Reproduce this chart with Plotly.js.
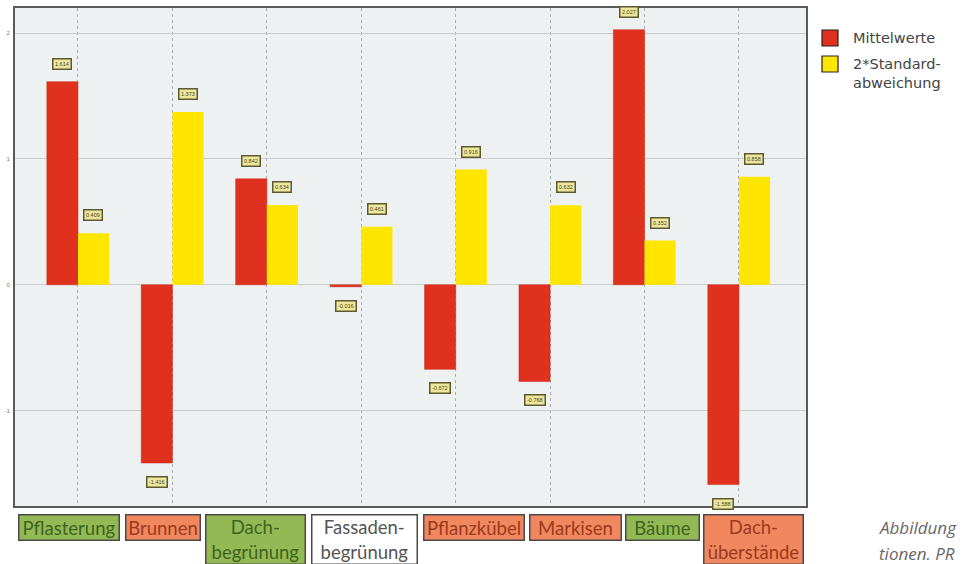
<!DOCTYPE html>
<html>
<head>
<meta charset="utf-8">
<script src="https://cdn.plot.ly/plotly-3.0.1.min.js"></script>
<style>html,body{margin:0;padding:0;background:#fff;}#chart{width:965px;height:564px;}</style>
</head>
<body>
<div id="chart"></div>
<script>
// ---- data ----
const categories = ['Pflasterung','Brunnen','Dachbegrünung','Fassadenbegrünung','Pflanzkübel','Markisen','Bäume','Dachüberstände'];
const categoryLabels = ['Pflasterung','Brunnen','Dach-<br>begrünung','Fassaden-<br>begrünung','Pflanzkübel','Markisen','Bäume','Dach-<br>überstände'];
const mittelwerte = [1.614, -1.416, 0.842, -0.016, -0.672, -0.768, 2.027, -1.588];
const standardabw2 = [0.409, 1.373, 0.634, 0.461, 0.916, 0.632, 0.352, 0.858];
const yTicks = [2, 1, 0, -1];
const legendNames = ['Mittelwerte', '2*Standard-<br>abweichung'];

// ---- styling (layout only) ----
const RED = '#e0301e', YEL = '#ffe600';
const boxKind = ['g','o','g','w','o','o','g','o'];
const boxFill = {g:'#93b955', o:'#f0875e', w:'#ffffff'};
const boxText = {g:'#3d6420', o:'#9c3a1e', w:'#555555'};
const boxPx = [[17,120],[124,201],[204,306],[310,418],[422,525],[528,622],[624,700],[702,804]];

const L = 15, R = 806, T = 8, B = 506;
const W = 965, H = 564;
const px2x = p => (p - L) / (R - L);
const py2y = p => (B - p) / (B - T);

const fmt = v => v.toFixed(3);

const traces = [
  {type:'bar', x:categories, y:mittelwerte, name:'Mittelwerte', marker:{color:RED, line:{color:'#c8281a', width:0.5}}, hoverinfo:'x+y'},
  {type:'bar', x:categories, y:standardabw2, name:'2*Standardabweichung', marker:{color:YEL, line:{width:0}}, hoverinfo:'x+y'}
];

const annotations = [];
// value labels
[mittelwerte, standardabw2].forEach((arr, si) => {
  arr.forEach((v, i) => {
    annotations.push({
      x: categories[i], y: v, xref:'x', yref:'y',
      xshift: si === 0 ? -15.5 : 15.5,
      yshift: v >= 0 ? 18 : -19,
      text: fmt(v), showarrow:false,
      font:{size:5.5, color:'#4a4520', family:'Arial'},
      bgcolor:'#ece79c', bordercolor:'#5e5830', borderwidth:1.5, borderpad:1.5
    });
  });
});
// category boxes
categoryLabels.forEach((lab, i) => {
  const [a, b] = boxPx[i];
  const two = lab.indexOf('<br>') >= 0;
  annotations.push({
    x: px2x((a + b) / 2), y: py2y(514), xref:'paper', yref:'paper',
    xanchor:'center', yanchor:'top', text: lab, showarrow:false,
    width: b - a - 4, height: two ? 48 : 24, align:'center', valign:'middle',
    font:{size:18.5, color: boxText[boxKind[i]], family:'Lato'},
    bgcolor: boxFill[boxKind[i]], bordercolor:'#4a4a4a', borderwidth:1.5, borderpad:0
  });
});
// legend text
annotations.push({x:px2x(851), y:py2y(38), xref:'paper', yref:'paper', xanchor:'left', yanchor:'middle',
  text: legendNames[0], showarrow:false, font:{size:14.5, color:'#444', family:'DejaVu Sans'}});
annotations.push({x:px2x(851), y:py2y(74), xref:'paper', yref:'paper', xanchor:'left', yanchor:'middle',
  text: legendNames[1], showarrow:false, align:'left', font:{size:14.5, color:'#444', family:'DejaVu Sans'}});
// caption
annotations.push({x:px2x(877), y:py2y(527), xref:'paper', yref:'paper', xanchor:'left', yanchor:'middle',
  text:'Abbildung', showarrow:false, font:{size:17, color:'#666', family:'Open Sans', style:'italic'}});
annotations.push({x:px2x(877), y:py2y(553), xref:'paper', yref:'paper', xanchor:'left', yanchor:'middle',
  text:'tionen. PR', showarrow:false, font:{size:17, color:'#666', family:'Open Sans', style:'italic'}});

const shapes = [
  {type:'rect', xref:'paper', yref:'paper', x0:px2x(822), x1:px2x(838), y0:py2y(46), y1:py2y(30),
   fillcolor:RED, line:{color:'#222', width:1.2}},
  {type:'rect', xref:'paper', yref:'paper', x0:px2x(822), x1:px2x(838), y0:py2y(72), y1:py2y(56),
   fillcolor:YEL, line:{color:'#222', width:1.2}}
];

const layout = {
  width: W, height: H,
  margin: {l: L, r: W - R, t: T, b: H - B, pad: 0},
  paper_bgcolor:'#ffffff', plot_bgcolor:'#eef1f1',
  showlegend:false, barmode:'group', bargap:0.34, bargroupgap:0,
  xaxis:{type:'category', range:[-0.667, 7.71], showticklabels:false, ticks:'',
    showgrid:true, gridcolor:'#a9adad', griddash:'dot', gridwidth:1,
    showline:true, mirror:true, linecolor:'#5a5a5a', linewidth:2, zeroline:false},
  yaxis:{range:[-1.758, 2.2], tickvals:yTicks, ticktext:yTicks.map(String), ticks:'',
    tickfont:{size:6, color:'#777', family:'Arial'}, ticklabelstandoff:2,
    showgrid:true, gridcolor:'#c9cdcd', gridwidth:1,
    zeroline:true, zerolinecolor:'#c9cdcd', zerolinewidth:1,
    showline:true, mirror:true, linecolor:'#5a5a5a', linewidth:2},
  annotations, shapes,
  font:{family:'Lato'}
};

Plotly.newPlot('chart', traces, layout, {displayModeBar:false, staticPlot:true});
</script>
</body>
</html>
